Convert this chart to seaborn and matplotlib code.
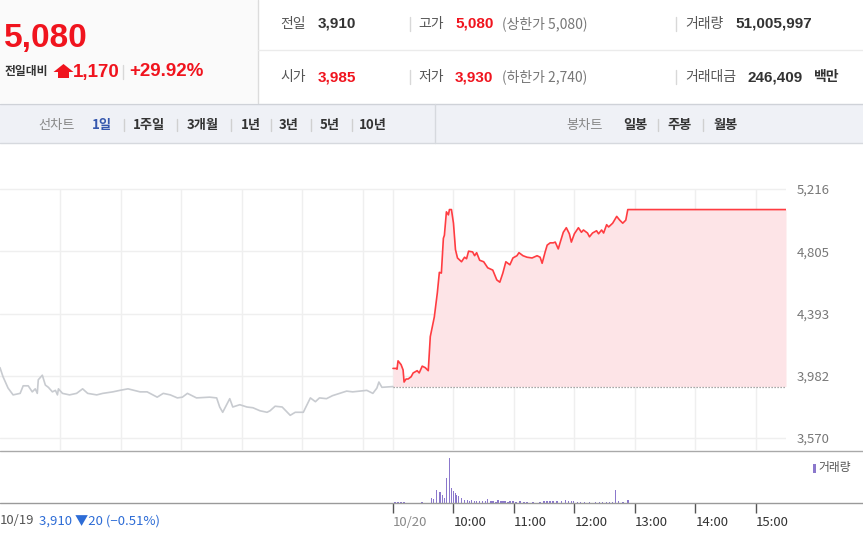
import numpy as np
import matplotlib.pyplot as plt
import matplotlib.patches as mpatches
from matplotlib.lines import Line2D
import seaborn as sns

sns.set_style("white")
plt.rcParams['font.family'] = ['Noto Sans CJK KR', 'DejaVu Sans']

W, H = 863, 544

# ---- data ----
prev_close = 3910
price_ticks = [3570, 3982, 4393, 4805, 5216]

# 10/19 (minutes after 09:00, price)
prev_min = [0, 3, 8, 13, 20, 23, 28, 32, 35, 37, 38, 42, 45, 48, 52, 55, 57, 58, 62, 69,
            76, 82, 87, 96, 102, 112, 119, 127, 139, 146, 156, 162, 169, 176, 181, 186, 195,
            208, 215, 218, 221, 228, 231, 238, 245, 251, 258, 265, 268, 273, 280, 288, 293,
            301, 308, 313, 317, 324, 330, 337, 344, 350, 364, 370, 374, 376, 379, 390]
prev_price = [4035, 3975, 3900, 3855, 3865, 3915, 3915, 3875, 3895, 3865, 3955, 3985, 3920,
              3905, 3875, 3885, 3855, 3895, 3865, 3855, 3865, 3895, 3865, 3855, 3865, 3875,
              3885, 3895, 3875, 3875, 3840, 3865, 3855, 3835, 3840, 3865, 3835, 3840, 3835,
              3775, 3740, 3830, 3775, 3790, 3775, 3770, 3750, 3740, 3750, 3780, 3775, 3720,
              3740, 3740, 3835, 3810, 3835, 3830, 3850, 3865, 3880, 3875, 3885, 3865, 3900,
              3940, 3905, 3910]

# 10/20 (minutes after 09:00, price)
today_min = [0, 3, 4, 5, 8, 10, 11, 13, 15, 18, 20, 24, 26, 29, 32, 35, 37, 41, 44, 46, 48,
             50, 51, 53, 55, 56, 58, 60, 62, 64, 68, 71, 73, 75, 79, 81, 83, 86, 90, 94, 99,
             103, 106, 109, 112, 116, 119, 123, 125, 129, 133, 138, 143, 146, 148, 151, 153,
             156, 159, 161, 164, 166, 169, 172, 175, 177, 180, 184, 187, 189, 193, 195, 198,
             202, 204, 207, 209, 212, 214, 218, 222, 225, 228, 231, 233, 390]
today_price = [4030, 4030, 4025, 4080, 4055, 4020, 3940, 3960, 3960, 3975, 4000, 4015, 4000,
               4045, 4035, 4015, 4240, 4370, 4530, 4665, 4660, 4890, 4910, 5065, 5045, 5080,
               5080, 4990, 4815, 4760, 4735, 4765, 4755, 4805, 4800, 4775, 4795, 4745, 4735,
               4695, 4680, 4615, 4600, 4660, 4735, 4715, 4760, 4775, 4795, 4775, 4765, 4760,
               4775, 4765, 4725, 4800, 4845, 4860, 4860, 4865, 4820, 4865, 4930, 4960, 4920,
               4865, 4920, 4960, 4930, 4945, 4925, 4900, 4925, 4940, 4920, 4945, 4925, 4980,
               4965, 4990, 5035, 5010, 4990, 5010, 5080, 5080]

# 10/20 volume (minutes after 09:00, thousand shares)
vol_min = [2, 5, 8, 11, 29, 38, 40, 43, 46, 47, 49, 51, 53, 56, 58, 60, 62, 63, 65, 68, 71,
           74, 76, 78, 81, 83, 86, 89, 92, 94, 97, 99, 102, 104, 107, 109, 111, 114, 116, 119,
           122, 126, 130, 133, 139, 146, 150, 153, 156, 159, 163, 167, 171, 174, 177, 179,
           183, 186, 190, 195, 201, 205, 208, 212, 215, 218, 221, 224, 228, 233]
vol_k = [150, 150, 150, 150, 150, 500, 450, 1300, 1100, 1100, 800, 500, 2500, 4500, 1500,
         1200, 1000, 800, 700, 500, 300, 300, 250, 300, 200, 200, 200, 200, 250, 400, 200,
         200, 150, 300, 200, 250, 200, 150, 200, 200, 150, 200, 100, 100, 100, 150, 200, 250,
         200, 200, 200, 250, 350, 250, 200, 200, 150, 150, 100, 100, 150, 100, 100, 150, 100,
         100, 1300, 200, 150, 300]

hour_grid = [60, 120, 180, 240, 300, 360, 390, 450, 510, 570, 630, 690, 750]
time_ticks = [390, 450, 510, 570, 630, 690, 750]
time_labels = ['10/20', '10:00', '11:00', '12:00', '13:00', '14:00', '15:00']

RED = '#f0141e'
LINE_RED = '#ff3c41'
FILL = '#fde4e7'
GRAY_LINE = '#c8cbd0'
GRID = '#efefef'
PURPLE = '#8b78cc'
BLUE = '#2d6cd6'


def fx(x):
    return x / W


def fy(y):
    return 1 - y / H


def ftxt(x, y, s, **kw):
    kw.setdefault('va', 'center')
    kw.setdefault('ha', 'left')
    fig.text(fx(x), fy(y), s, **kw)


def hline(y, x0, x1, color, lw=1.0):
    fig.add_artist(Line2D([fx(x0), fx(x1)], [fy(y), fy(y)], color=color, lw=lw))


def vline(x, y0, y1, color, lw=1.0):
    fig.add_artist(Line2D([fx(x), fx(x)], [fy(y0), fy(y1)], color=color, lw=lw))


fig = plt.figure(figsize=(W / 100, H / 100), dpi=100)
fig.patch.set_facecolor('white')

# ---- header ----
fig.add_artist(mpatches.Rectangle((0, fy(103)), fx(258), 103 / H, facecolor='#fafafa',
                                  edgecolor='none'))
vline(258, 0, 103, '#dcdcdc')
hline(50, 258, 863, '#ebebeb')

num_font = ['Liberation Sans', 'Noto Sans CJK KR']
ftxt(4, 38, '5,080', color=RED, fontsize=24, fontweight='bold', family=num_font)
ftxt(5, 72, '전일대비', color='#333333', fontsize=8.5, fontweight='bold')
fig.add_artist(mpatches.Polygon([(fx(63.5), fy(64)), (fx(73.5), fy(72)), (fx(69), fy(72)),
                                 (fx(69), fy(78)), (fx(58), fy(78)), (fx(58), fy(72)),
                                 (fx(53.5), fy(72))], closed=True, facecolor=RED,
                                edgecolor='none'))
ftxt(73, 72, '1,170', color=RED, fontsize=13.5, fontweight='bold', family=num_font)
vline(123, 65, 79, '#d8d8d8')
ftxt(129, 72, '+29.92%', color=RED, fontsize=13.5, fontweight='bold', family=num_font)

rows = [(24, [('전일', '3,910', '#333333', ''), ('고가', '5,080', RED, '(상한가 5,080)'),
              ('거래량', '51,005,997', '#333333', '')]),
        (77, [('시가', '3,985', RED, ''), ('저가', '3,930', RED, '(하한가 2,740)'),
              ('거래대금', '246,409', '#333333', '백만')])]
col_x = [(280, 318), (418, 455), (685, 735)]
for y, items in rows:
    for (lx, vx), (lab, val, vc, extra) in zip(col_x, items):
        if lab == '거래대금':
            vx = 747
        ftxt(lx, y, lab, color='#555555', fontsize=10)
        ftxt(vx, y, val, color=vc, fontsize=11, fontweight='bold', family=num_font)
        if extra == '백만':
            ftxt(814, y, extra, color='#333333', fontsize=10, fontweight='bold')
        elif extra:
            ftxt(502, y, extra, color='#777777', fontsize=10)
    vline(410, y - 7, y + 7, '#d8d8d8')
    vline(676, y - 7, y + 7, '#d8d8d8')

# ---- toolbar ----
fig.add_artist(mpatches.Rectangle((0, fy(143)), 1, 39 / H, facecolor='#eff1f6',
                                  edgecolor='none'))
hline(104, 0, 863, '#cfd2d8')
hline(143, 0, 863, '#d6d9de')
vline(435, 104, 143, '#d6d9de')
tb_y = 125
ftxt(38, tb_y, '선차트', color='#888888', fontsize=9.5)
ftxt(92, tb_y, '1일', color='#3557ad', fontsize=9.5, fontweight='bold')
for lab, x in [('1주일', 133), ('3개월', 187), ('1년', 241), ('3년', 279), ('5년', 320),
               ('10년', 359)]:
    ftxt(x, tb_y, lab, color='#333333', fontsize=9.5, fontweight='bold')
for x in [124, 177, 231, 271, 311, 352, 658, 703]:
    vline(x, tb_y - 6, tb_y + 6, '#d0d0d0')
ftxt(566, tb_y, '봉차트', color='#888888', fontsize=9.5)
for lab, x in [('일봉', 623), ('주봉', 667), ('월봉', 713)]:
    ftxt(x, tb_y, lab, color='#333333', fontsize=9.5, fontweight='bold')

# ---- price panel ----
ppx = (5216 - 3570) / (438 - 189)
y_lo = 3570 - (450 - 438) * ppx
y_hi = 5216 + (189 - 150) * ppx
axp = fig.add_axes([0, fy(450), fx(786), 300 / H])
axp.set_xlim(0, 780)
axp.set_ylim(y_lo, y_hi)
for t in price_ticks:
    axp.axhline(t, color=GRID, lw=1, zorder=0)
axp.vlines(hour_grid, y_lo, 5216, color=GRID, lw=1, zorder=0)

today_x = np.array(today_min) + 390
axp.fill_between(today_x, today_price, prev_close, color=FILL, lw=0, zorder=1)
axp.plot([390, 780], [prev_close, prev_close], color='#8c8c8c', lw=0.9,
         ls=(0, (1, 1.4)), zorder=2)
sns.lineplot(x=prev_min, y=prev_price, ax=axp, color=GRAY_LINE, lw=1.2, estimator=None,
             sort=False, zorder=3)
sns.lineplot(x=today_x, y=today_price, ax=axp, color=LINE_RED, lw=1.2, estimator=None,
             sort=False, zorder=4)

axp.set_xticks([])
axp.yaxis.tick_right()
axp.set_yticks(price_ticks)
axp.set_yticklabels([f'{t:,}' for t in price_ticks])
axp.tick_params(axis='y', length=0, pad=8, labelsize=9.5, labelcolor='#777777')
axp.set_xlabel('')
axp.set_ylabel('')
for s in axp.spines.values():
    s.set_visible(False)
axp.patch.set_alpha(0)

# ---- volume panel ----
axv = fig.add_axes([0, fy(503), fx(786), 52 / H])
axv.set_xlim(0, 780)
axv.set_ylim(0, max(vol_k) * 52 / 45)
axv.bar(np.array(vol_min) + 390, vol_k, width=1.5, color=PURPLE, lw=0)
axv.set_yticks([])
axv.set_xticks(time_ticks)
axv.set_xticklabels(time_labels)
axv.tick_params(axis='x', bottom=True, direction='out', length=7, width=1, color='#555555',
                pad=2, labelsize=9.5, labelcolor='#333333')
for lab in axv.get_xticklabels():
    lab.set_ha('left')
axv.get_xticklabels()[0].set_color('#888888')
for s in axv.spines.values():
    s.set_visible(False)
axv.patch.set_alpha(0)

hline(451, 0, 863, '#a9a9a9')
hline(503, 0, 863, '#9a9a9a')

fig.add_artist(mpatches.Rectangle((fx(813), fy(473)), 3 / W, 9 / H, facecolor=PURPLE,
                                  edgecolor='none'))
ftxt(818, 468, '거래량', color='#555555', fontsize=8.5)

ftxt(0, 521, '10/19', color='#555555', fontsize=9.5)
ftxt(39, 521, '3,910 ▼20 (−0.51%)', color=BLUE, fontsize=9.5)

fig.savefig('out.png', dpi=100)
